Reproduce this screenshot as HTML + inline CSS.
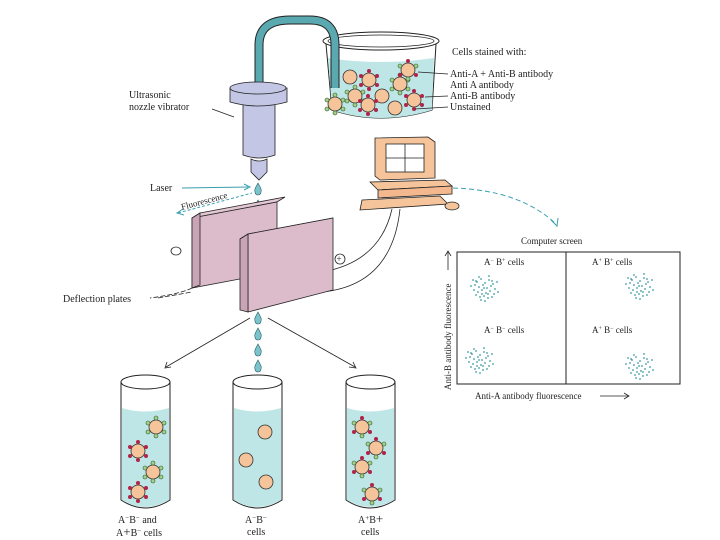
<!DOCTYPE html>
<html><head><meta charset="utf-8"><style>
html,body{margin:0;padding:0;background:#fff;width:720px;height:540px;overflow:hidden}
text{font-family:"Liberation Serif",serif;fill:#222}
</style></head><body>
<svg width="720" height="540" viewBox="0 0 720 540" xmlns="http://www.w3.org/2000/svg">
<defs>
<g id="u"><circle r="7" fill="#f6c49a" stroke="#333" stroke-width="0.8"/></g>
<g id="r"><circle r="7" fill="#f6c49a" stroke="#333" stroke-width="0.8"/>
<g fill="#b0244a"><circle cx="0" cy="-9" r="2"/><circle cx="8" cy="-4" r="2"/><circle cx="8" cy="5" r="2"/><circle cx="0" cy="9" r="2"/><circle cx="-8" cy="5" r="2"/><circle cx="-8" cy="-4" r="2"/></g></g>
<g id="g"><circle r="7" fill="#f6c49a" stroke="#333" stroke-width="0.8"/>
<g fill="#a6d08a" stroke="#2d5a2d" stroke-width="0.6"><circle cx="0" cy="-9" r="2"/><circle cx="8" cy="-4" r="2"/><circle cx="8" cy="5" r="2"/><circle cx="0" cy="9" r="2"/><circle cx="-8" cy="5" r="2"/><circle cx="-8" cy="-4" r="2"/></g></g>
<g id="b"><circle r="7" fill="#f6c49a" stroke="#333" stroke-width="0.8"/>
<g fill="#b0244a"><circle cx="0" cy="-9" r="2"/><circle cx="8" cy="5" r="2"/><circle cx="-8" cy="5" r="2"/></g>
<g fill="#a6d08a" stroke="#2d5a2d" stroke-width="0.6"><circle cx="8" cy="-4" r="2"/><circle cx="0" cy="9" r="2"/><circle cx="-8" cy="-4" r="2"/></g></g>
<path id="d" d="M0,-6 C2,-2 4,0 3,3 A3,3 0 0 1 -3,3 C-4,0 -2,-2 0,-6Z" fill="#7cc4cc" stroke="#2a5a60" stroke-width="0.6"/>
<g id="dots">
<circle cx="0" cy="0" r="0.9"/><circle cx="4" cy="2" r="0.9"/><circle cx="8" cy="-1" r="0.9"/><circle cx="12" cy="3" r="0.9"/><circle cx="16" cy="0" r="0.9"/><circle cx="20" cy="4" r="0.9"/><circle cx="2" cy="5" r="0.9"/><circle cx="6" cy="7" r="0.9"/><circle cx="10" cy="5" r="0.9"/><circle cx="14" cy="8" r="0.9"/><circle cx="18" cy="6" r="0.9"/><circle cx="22" cy="9" r="0.9"/><circle cx="1" cy="10" r="0.9"/><circle cx="5" cy="12" r="0.9"/><circle cx="9" cy="10" r="0.9"/><circle cx="13" cy="13" r="0.9"/><circle cx="17" cy="11" r="0.9"/><circle cx="21" cy="14" r="0.9"/><circle cx="3" cy="15" r="0.9"/><circle cx="7" cy="17" r="0.9"/><circle cx="11" cy="16" r="0.9"/><circle cx="15" cy="18" r="0.9"/><circle cx="19" cy="17" r="0.9"/><circle cx="8" cy="20" r="0.9"/><circle cx="12" cy="21" r="0.9"/><circle cx="16" cy="-4" r="0.9"/><circle cx="6" cy="-3" r="0.9"/><circle cx="24" cy="2" r="0.9"/><circle cx="-2" cy="6" r="0.9"/><circle cx="25" cy="12" r="0.9"/>
<circle cx="3" cy="1" r="0.9"/><circle cx="11" cy="8" r="0.9"/><circle cx="15" cy="14" r="0.9"/><circle cx="19" cy="1" r="0.9"/><circle cx="9" cy="14" r="0.9"/>
</g>
</defs>

<!-- beaker -->
<path d="M326,44 L332,110 Q380,126 432,110 L436,44" fill="#fff" stroke="#222" stroke-width="1"/>
<path d="M328,58 L332,110 Q380,126 432,110 L434,58 Q380,66 328,58Z" fill="#bfe6e6"/>
<ellipse cx="381" cy="41" rx="58" ry="9" fill="none" stroke="#222" stroke-width="1"/>
<ellipse cx="381" cy="41" rx="53" ry="6" fill="none" stroke="#222" stroke-width="0.8"/>
<!-- tube -->
<path d="M259,88 L259,45 Q259,20 290,20 L310,20 Q335,20 335,45 L335,88" fill="none" stroke="#222" stroke-width="9"/>
<path d="M259,88 L259,45 Q259,20 290,20 L310,20 Q335,20 335,45 L335,88" fill="none" stroke="#5aa8b0" stroke-width="7"/>
<!-- beaker cells -->
<use href="#u" x="350" y="77"/><use href="#r" x="369" y="80"/><use href="#g" x="400" y="84"/><use href="#b" x="408" y="70"/>
<use href="#g" x="355" y="96"/><use href="#u" x="382" y="96"/><use href="#r" x="414" y="100"/><use href="#g" x="335" y="104"/>
<use href="#r" x="368" y="105"/><use href="#u" x="395" y="108"/>
<text x="452" y="55" font-size="10">Cells stained with:</text>
<text x="450" y="77" font-size="10">Anti-A + Anti-B antibody</text>
<text x="450" y="88" font-size="10">Anti A antibody</text>
<text x="450" y="99" font-size="10">Anti-B antibody</text>
<text x="450" y="110" font-size="10">Unstained</text>
<g stroke="#222" stroke-width="0.8"><line x1="418" y1="72" x2="448" y2="74"/><line x1="425" y1="97" x2="448" y2="96"/><line x1="415" y1="109" x2="448" y2="107"/></g>

<!-- nozzle -->
<path d="M243,100 L243,155 Q259,161 275,155 L275,100Z" fill="#c3c6e4" stroke="#222" stroke-width="0.8"/>
<path d="M230,88 L230,102 Q258,110 287,102 L287,88Z" fill="#c3c6e4" stroke="#222" stroke-width="0.8"/>
<ellipse cx="258" cy="88" rx="28" ry="6" fill="#c3c6e4" stroke="#222" stroke-width="0.8"/>
<path d="M251,159 L251,172 L259,180 L267,172 L267,159 Q259,163 251,159Z" fill="#c3c6e4" stroke="#222" stroke-width="0.8"/>
<text x="129" y="98" font-size="10">Ultrasonic</text>
<text x="129" y="110" font-size="10">nozzle vibrator</text>
<line x1="212" y1="109" x2="234" y2="117" stroke="#222" stroke-width="0.8"/>

<!-- drops -->
<use href="#d" x="258" y="189"/><use href="#d" x="258" y="206"/><use href="#d" x="258" y="223"/>
<use href="#d" x="258" y="318"/><use href="#d" x="258" y="334"/><use href="#d" x="258" y="350"/><use href="#d" x="258" y="366"/>
<text x="150" y="191" font-size="10">Laser</text>
<line x1="182" y1="188" x2="248" y2="187" stroke="#3a9fb0" stroke-width="1"/>
<path d="M244,184 L250,187 L244,190" fill="none" stroke="#3a9fb0"/>
<line x1="178" y1="213" x2="252" y2="193" stroke="#3a9fb0" stroke-width="1" stroke-dasharray="3,2"/>
<path d="M183,209 L177,213 L184,215" fill="none" stroke="#3a9fb0"/>
<text x="182" y="210" font-size="9" transform="rotate(-15 182 210)">Fluorescence</text>

<!-- wires -->
<g fill="none" stroke="#222" stroke-width="0.8">
<path d="M392,209 Q380,262 322,272"/><path d="M400,209 Q392,285 322,292"/>
<path d="M192,288 Q180,294 150,298" stroke-dasharray="5,2"/>
</g>
<!-- plates -->
<path d="M192,218 L200,213 L285,197 L277,202Z" fill="#e3c7d3" stroke="#222" stroke-width="0.8"/>
<path d="M192,218 L277,202 L277,272 L192,288Z" fill="#dcbccb" stroke="#222" stroke-width="0.8"/>
<path d="M192,218 L200,213 L200,285 L192,288Z" fill="#c9a4b6" stroke="#222" stroke-width="0.8"/>
<path d="M240,239 L248,234 L333,218 L325,223Z" fill="#e3c7d3" stroke="#222" stroke-width="0.8"/>
<path d="M248,234 L333,218 L333,290 L248,312Z" fill="#dcbccb" stroke="#222" stroke-width="0.8"/>
<path d="M240,239 L248,234 L248,312 L240,310Z" fill="#c9a4b6" stroke="#222" stroke-width="0.8"/>
<ellipse cx="176" cy="251" rx="5" ry="4" fill="none" stroke="#222" stroke-width="0.8"/>
<circle cx="340" cy="259" r="5" fill="none" stroke="#222" stroke-width="0.8"/>
<text x="336.5" y="262" font-size="9">+</text>
<text x="63" y="302" font-size="10">Deflection plates</text>
<line x1="158" y1="298" x2="192" y2="292" stroke="#222" stroke-width="0.8" stroke-dasharray="5,2"/>

<!-- computer -->
<g stroke="#222" stroke-width="0.8">
<path d="M375,138 L428,137 L435,142 L435,178 L380,180 L375,176Z" fill="#f6c49a"/>
<rect x="386" y="144" width="38" height="28" fill="#fff"/>
<line x1="405" y1="144" x2="405" y2="172"/><line x1="386" y1="158" x2="424" y2="158"/>
<path d="M370,182 L445,180 L452,186 L378,190Z" fill="#f6c49a"/>
<path d="M378,190 L452,186 L452,194 L378,198Z" fill="#f3b88e"/>
<path d="M362,200 L440,196 L448,204 L360,210Z" fill="#f6c49a"/>
<ellipse cx="452" cy="206" rx="7" ry="4" fill="#f6c49a"/>
</g>
<path d="M453,188 Q520,190 556,224" fill="none" stroke="#3a9fb0" stroke-dasharray="5,3"/>
<path d="M551,220 L557,226 L558,218" fill="none" stroke="#3a9fb0"/>

<!-- screen -->
<text x="521" y="244" font-size="9">Computer screen</text>
<rect x="457" y="252" width="223" height="132" fill="none" stroke="#222" stroke-width="1"/>
<line x1="566" y1="252" x2="566" y2="384" stroke="#222" stroke-width="1"/>
<text x="484" y="265" font-size="9">A<tspan font-size="6" dy="-3">−</tspan><tspan dy="3"> B</tspan><tspan font-size="6" dy="-3">+</tspan><tspan dy="3"> cells</tspan></text>
<text x="592" y="265" font-size="9">A<tspan font-size="6" dy="-3">+</tspan><tspan dy="3"> B</tspan><tspan font-size="6" dy="-3">+</tspan><tspan dy="3"> cells</tspan></text>
<text x="484" y="333" font-size="9">A<tspan font-size="6" dy="-3">−</tspan><tspan dy="3"> B</tspan><tspan font-size="6" dy="-3">−</tspan><tspan dy="3"> cells</tspan></text>
<text x="592" y="333" font-size="9">A<tspan font-size="6" dy="-3">+</tspan><tspan dy="3"> B</tspan><tspan font-size="6" dy="-3">−</tspan><tspan dy="3"> cells</tspan></text>
<g fill="#3a9aa4">
<use href="#dots" x="473" y="280"/><use href="#dots" x="628" y="278"/><use href="#dots" x="468" y="352"/><use href="#dots" x="628" y="358"/>
</g>
<text x="0" y="0" font-size="9" transform="translate(451,390) rotate(-90)">Anti-B antibody fluorescence</text>
<line x1="448" y1="252" x2="448" y2="270" stroke="#222" stroke-width="0.8"/>
<path d="M445,256 L448,251 L451,256" fill="none" stroke="#222" stroke-width="0.8"/>
<text x="475" y="399" font-size="9">Anti-A antibody fluorescence</text>
<line x1="600" y1="396" x2="628" y2="396" stroke="#222" stroke-width="0.8"/>
<path d="M624,393 L629,396 L624,399" fill="none" stroke="#222" stroke-width="0.8"/>

<!-- arrows to tubes -->
<g stroke="#222" stroke-width="0.8" fill="none">
<line x1="250" y1="318" x2="166" y2="367"/><path d="M167,362 L165,368 L171,367"/>
<line x1="268" y1="318" x2="355" y2="367"/><path d="M349,367 L356,368 L353,362"/>
</g>

<!-- tubes -->
<g stroke="#222" stroke-width="1">
<path d="M121,382 L121,500 Q145,516 170,500 L170,382" fill="#fff"/>
<path d="M122,408 L122,500 Q145,514 169,500 L169,408 Q145,415 122,408Z" fill="#bfe6e6" stroke="none"/>
<ellipse cx="145.5" cy="382" rx="24.5" ry="7" fill="#fff"/>
<path d="M233,382 L233,500 Q257,516 282,500 L282,382" fill="#fff"/>
<path d="M234,408 L234,500 Q257,514 281,500 L281,408 Q257,415 234,408Z" fill="#bfe6e6" stroke="none"/>
<ellipse cx="257.5" cy="382" rx="24.5" ry="7" fill="#fff"/>
<path d="M346,382 L346,500 Q370,516 395,500 L395,382" fill="#fff"/>
<path d="M347,408 L347,500 Q370,514 394,500 L394,408 Q370,415 347,408Z" fill="#bfe6e6" stroke="none"/>
<ellipse cx="370.5" cy="382" rx="24.5" ry="7" fill="#fff"/>
</g>
<use href="#g" x="156" y="427"/><use href="#r" x="138" y="451"/><use href="#g" x="153" y="472"/><use href="#r" x="138" y="492"/>
<use href="#u" x="265" y="432"/><use href="#u" x="246" y="460"/><use href="#u" x="266" y="482"/>
<use href="#b" x="362" y="427"/><use href="#b" x="376" y="448"/><use href="#b" x="362" y="467"/><use href="#b" x="372" y="494"/>
<text x="118" y="523" font-size="10">A<tspan font-size="7" dy="-3">−</tspan><tspan dy="3">B</tspan><tspan font-size="7" dy="-3">−</tspan><tspan dy="3"> and</tspan></text>
<text x="116" y="536" font-size="10">A<tspan font-size="13">+</tspan>B<tspan font-size="7" dy="-3">−</tspan><tspan dy="3"> cells</tspan></text>
<text x="245" y="523" font-size="10">A<tspan font-size="7" dy="-3">−</tspan><tspan dy="3">B</tspan><tspan font-size="7" dy="-3">−</tspan></text>
<text x="247" y="535" font-size="10">cells</text>
<text x="358" y="523" font-size="10">A<tspan font-size="7" dy="-3">+</tspan><tspan dy="3">B</tspan><tspan font-size="13">+</tspan></text>
<text x="361" y="535" font-size="10">cells</text>
</svg>
</body></html>
